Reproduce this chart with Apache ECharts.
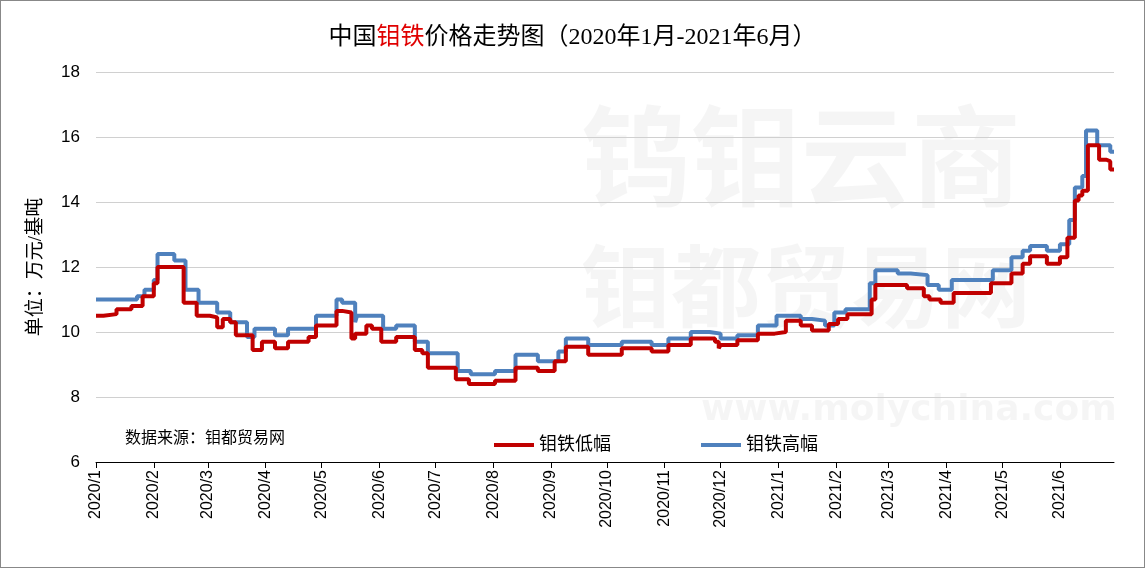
<!DOCTYPE html>
<html>
<head>
<meta charset="utf-8">
<script src="https://cdn.jsdelivr.net/npm/echarts@6/dist/echarts.min.js"></script>
<style>
 html,body{margin:0;padding:0;background:#fff;}
 #main{width:1143px;height:566px;border:1px solid #888;}
</style>
</head>
<body>
<div id="main"></div>
<script>
// 钼铁低幅（万元/基吨），按价格变动日期记录
var low_dates = ['2020-01-01','2020-01-05','2020-01-12','2020-01-20','2020-01-26','2020-02-01','2020-02-03','2020-02-17','2020-02-24','2020-03-02','2020-03-06','2020-03-09','2020-03-13','2020-03-16','2020-03-25','2020-03-30','2020-04-06','2020-04-13','2020-04-24','2020-04-28','2020-05-09','2020-05-12','2020-05-17','2020-05-19','2020-05-25','2020-05-28','2020-06-02','2020-06-10','2020-06-20','2020-06-24','2020-06-27','2020-07-12','2020-07-19','2020-08-02','2020-08-13','2020-08-25','2020-09-03','2020-09-09','2020-09-21','2020-10-09','2020-10-25','2020-11-03','2020-11-15','2020-11-28','2020-11-30','2020-12-01','2020-12-10','2020-12-21','2020-12-30','2021-01-05','2021-01-13','2021-01-19','2021-01-28','2021-02-02','2021-02-07','2021-02-20','2021-02-22','2021-03-11','2021-03-20','2021-03-23','2021-03-29','2021-04-05','2021-04-25','2021-05-06','2021-05-12','2021-05-16','2021-05-25','2021-06-01','2021-06-05','2021-06-09','2021-06-11','2021-06-13','2021-06-16','2021-06-22','2021-06-26','2021-06-28','2021-06-30'];
var low_values = [10.5,10.55,10.7,10.8,11.1,11.5,12.0,10.9,10.5,10.45,10.15,10.4,10.3,9.9,9.45,9.7,9.5,9.7,9.85,10.2,10.65,10.6,9.8,9.95,10.2,10.1,9.7,9.85,9.45,9.35,8.9,8.55,8.4,8.5,8.9,8.8,9.1,9.55,9.3,9.5,9.4,9.6,9.8,9.7,9.5,9.6,9.75,9.95,10.0,10.35,10.2,10.05,10.25,10.4,10.55,11.0,11.45,11.35,11.1,11.0,10.9,11.2,11.5,11.8,12.1,12.33,12.1,12.3,12.9,14.05,14.2,14.35,15.75,15.3,15.25,15.0,15.0];

// 钼铁高幅
var high_dates = ['2020-01-01','2020-01-23','2020-01-27','2020-02-01','2020-02-03','2020-02-12','2020-02-18','2020-02-25','2020-03-06','2020-03-13','2020-03-22','2020-03-26','2020-04-06','2020-04-13','2020-04-28','2020-05-09','2020-05-12','2020-05-19','2020-05-20','2020-06-03','2020-06-10','2020-06-20','2020-06-27','2020-07-13','2020-07-20','2020-08-02','2020-08-13','2020-08-25','2020-09-05','2020-09-09','2020-09-21','2020-10-09','2020-10-25','2020-11-03','2020-11-15','2020-11-25','2020-12-01','2020-12-10','2020-12-21','2020-12-31','2021-01-13','2021-01-19','2021-01-26','2021-01-31','2021-02-06','2021-02-19','2021-02-22','2021-03-06','2021-03-13','2021-03-22','2021-03-28','2021-04-04','2021-04-26','2021-05-06','2021-05-12','2021-05-16','2021-05-25','2021-06-01','2021-06-06','2021-06-09','2021-06-13','2021-06-15','2021-06-21','2021-06-28','2021-06-30'];
var high_values = [11.0,11.1,11.3,11.6,12.4,12.2,11.3,10.9,10.6,10.3,9.85,10.1,9.9,10.1,10.5,11.0,10.9,10.3,10.5,10.1,10.2,9.7,9.35,8.8,8.7,8.8,9.3,9.1,9.4,9.8,9.6,9.7,9.6,9.8,10.0,9.95,9.8,9.9,10.2,10.5,10.4,10.35,10.2,10.6,10.7,11.5,11.9,11.8,11.75,11.45,11.3,11.6,11.9,12.3,12.5,12.65,12.5,12.7,13.45,14.45,14.8,16.2,15.75,15.55,15.55];

var y_ticks = [6, 8, 10, 12, 14, 16, 18];

function pairs(d, v){
  var out = [];
  for (var i = 0; i < d.length; i++) out.push([d[i], v[i]]);
  return out;
}

var myChart = echarts.init(document.getElementById('main'));
var cjk = '"Liberation Serif","Noto Sans CJK SC",serif';
var sans = '"Liberation Sans","Noto Sans CJK SC",sans-serif';

var option = {
  backgroundColor: '#fff',
  animation: false,
  title: {
    text: '{a|中国}{b|钼铁}{a|价格走势图（2020年1月-2021年6月）}',
    left: 'center', top: 20,
    textStyle: {
      rich: {
        a: {fontSize: 24, color: '#000', fontFamily: cjk, fontWeight: 'normal'},
        b: {fontSize: 24, color: '#e00000', fontFamily: cjk, fontWeight: 'normal'}
      }
    }
  },
  graphic: [
    {type: 'text', left: 580, top: 100, z: 0, silent: true,
     style: {text: '钨钼云商', font: 'bold 110px "Noto Sans CJK SC"', fill: 'rgba(0,0,0,0.04)'}},
    {type: 'text', left: 580, top: 240, z: 0, silent: true,
     style: {text: '钼都贸易网', font: 'bold 90px "Noto Sans CJK SC"', fill: 'rgba(0,0,0,0.04)'}},
    {type: 'text', left: 700, top: 392, z: 0, silent: true,
     style: {text: 'www.molychina.com', font: 'bold 36px "DejaVu Sans"', fill: 'rgba(0,0,0,0.04)'}},
    {type: 'text', left: 124, top: 428, z: 10,
     style: {text: '数据来源：钼都贸易网', font: '16px "Noto Sans CJK SC"', fill: '#000'}}
  ],
  legend: {
    data: ['钼铁低幅', '钼铁高幅'],
    left: 488, top: 430, itemGap: 90,
    itemWidth: 40, itemHeight: 4,
    icon: 'rect',
    textStyle: {fontSize: 18, color: '#000', fontFamily: sans}
  },
  grid: {left: 95, right: 30, top: 71, bottom: 105},
  xAxis: {
    type: 'time',
    min: '2020-01-01', max: '2021-06-30',
    splitNumber: 18,
    minInterval: 28 * 86400000,
    maxInterval: 31 * 86400000,
    axisLine: {lineStyle: {color: '#000', width: 1}},
    axisTick: {show: true, length: 6, lineStyle: {color: '#000'}},
    splitLine: {show: false},
    axisLabel: {
      rotate: 90, fontSize: 16, color: '#000', fontFamily: sans,
      formatter: '{yyyy}/{M}', showMaxLabel: false, hideOverlap: false
    }
  },
  yAxis: {
    type: 'value', min: y_ticks[0], max: y_ticks[y_ticks.length - 1], interval: 2,
    name: '单位：万元/基吨', nameLocation: 'middle', nameGap: 50,
    nameTextStyle: {fontSize: 19, color: '#000', fontFamily: cjk},
    axisLine: {show: false}, axisTick: {show: false},
    axisLabel: {fontSize: 17, color: '#000', fontFamily: sans, margin: 16},
    splitLine: {lineStyle: {color: '#d0d0d0', width: 1.2}}
  },
  series: [
    {name: '钼铁低幅', type: 'line', step: 'end', showSymbol: false,
     color: '#c00000', lineStyle: {width: 4, color: '#c00000'},
     data: pairs(low_dates, low_values), z: 3},
    {name: '钼铁高幅', type: 'line', step: 'end', showSymbol: false,
     color: '#4f81bd', lineStyle: {width: 4, color: '#4f81bd'},
     data: pairs(high_dates, high_values), z: 2}
  ]
};
myChart.setOption(option);
</script>
</body>
</html>
